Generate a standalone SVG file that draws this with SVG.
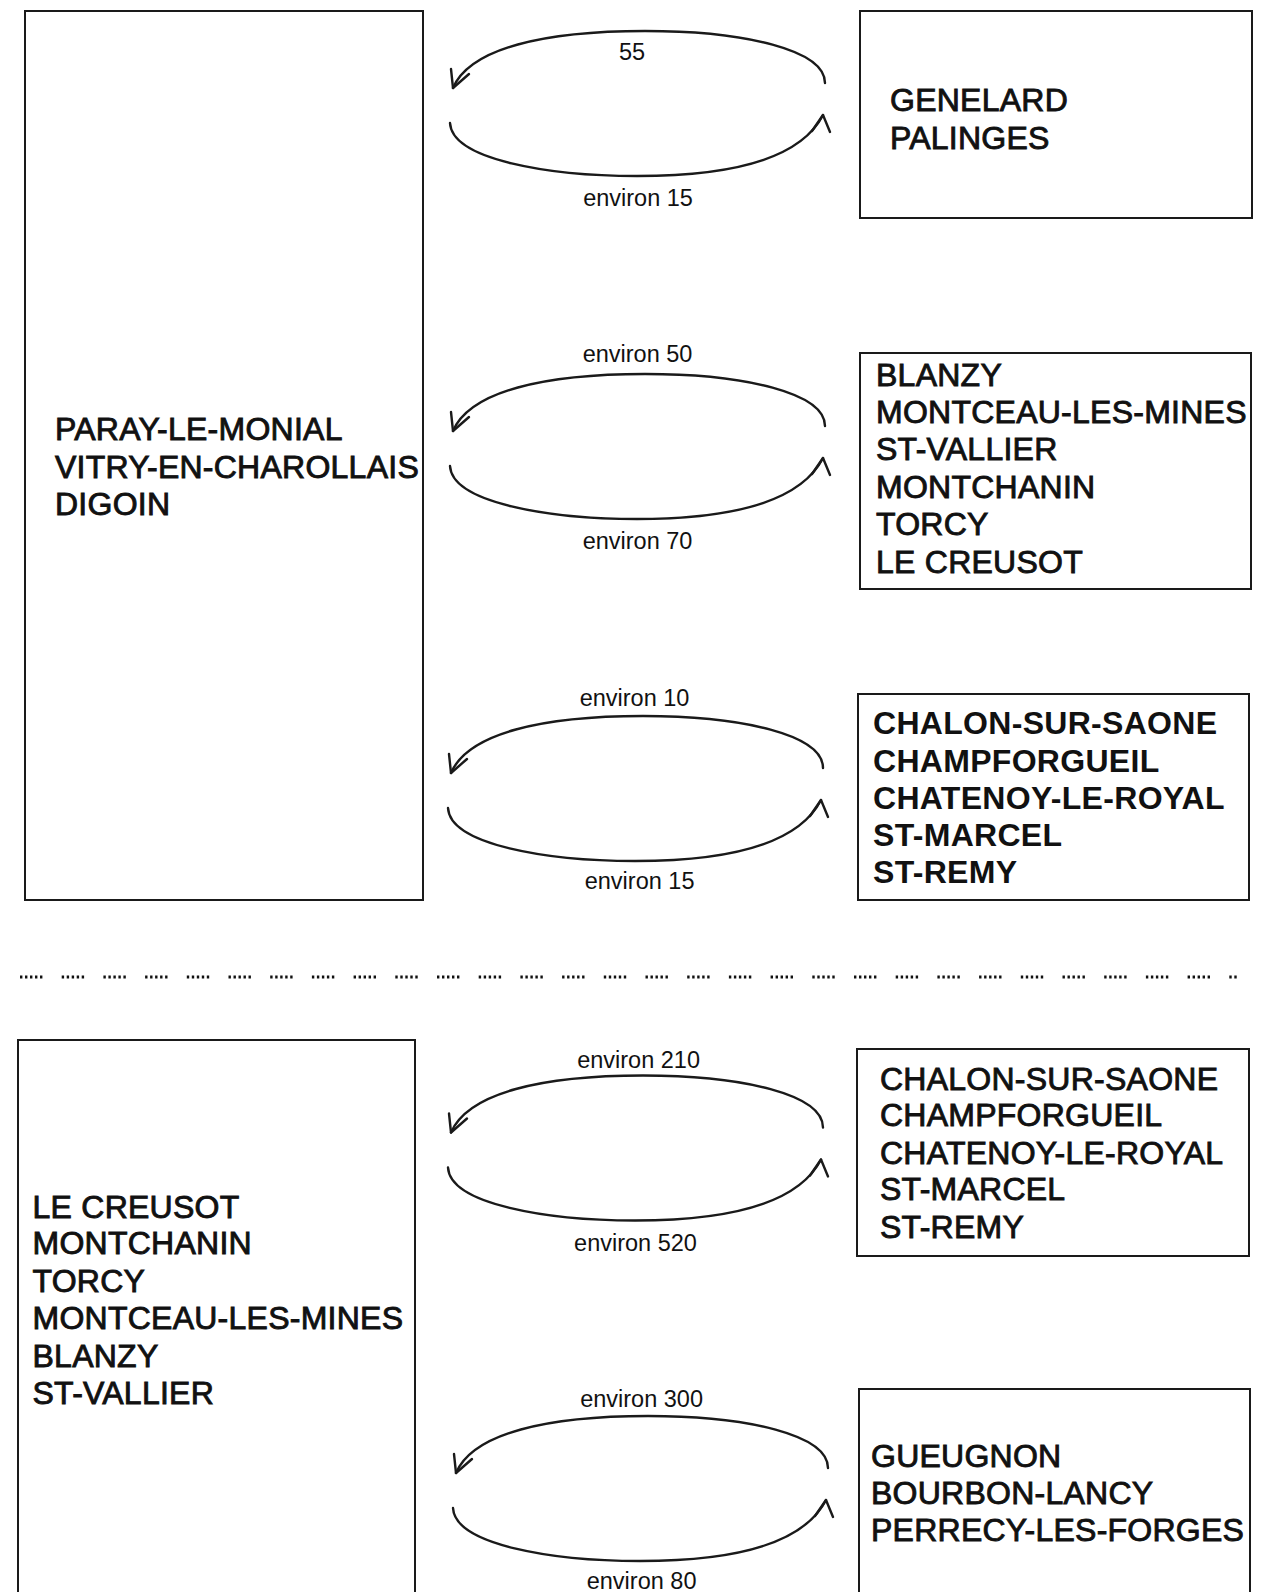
<svg xmlns="http://www.w3.org/2000/svg" xmlns:xlink="http://www.w3.org/1999/xlink" width="1273" height="1592" viewBox="0 0 1273 1592">
<style>
.box{fill:none;stroke:#1a1a1a;stroke-width:2}
.t{font-family:"Liberation Sans",Arial,sans-serif;font-size:32px;letter-spacing:0.25px;fill:#111;stroke:#111;stroke-width:0.9px}
.tb{font-family:"Liberation Sans",Arial,sans-serif;font-size:32px;font-weight:bold;letter-spacing:0.3px;fill:#111}
.lbl{font-family:"Liberation Sans",Arial,sans-serif;font-size:23.5px;fill:#111;text-anchor:middle}
.arc{fill:none;stroke:#1a1a1a;stroke-width:2.4;stroke-linecap:round;stroke-linejoin:round}
.dots{fill:none;stroke:#111;stroke-width:3;stroke-dasharray:2.4 2.6 2.4 2.6 2.4 2.6 2.4 2.6 2.4 19.3}
</style>
<defs>
<g id="loop">
<path class="arc" d="M825,83 C825,50 745,31 645,31 C545,31 470,48 453,88"/>
<path class="arc" d="M451,69 L453,88 L469,74"/>
<path class="arc" d="M450,123 C452,160 550,176 637,176 C730,176 800,160 823,115"/>
<path class="arc" d="M812,131 L823,115 L830,132"/>
</g>
</defs>
<rect width="1273" height="1592" fill="#fff"/>

<g id="n-paray">
<rect class="box" x="25" y="11" width="398" height="889"/>
<text class="t" x="55" y="440">PARAY-LE-MONIAL</text>
<text class="t" x="55" y="477.5">VITRY-EN-CHAROLLAIS</text>
<text class="t" x="55" y="515">DIGOIN</text>
</g>

<g id="n-genelard">
<rect class="box" x="860" y="11" width="392" height="207"/>
<text class="t" x="890" y="111">GENELARD</text>
<text class="t" x="890" y="148.5">PALINGES</text>
</g>

<g id="n-blanzy">
<rect class="box" x="860" y="353" width="391" height="236"/>
<text class="t" x="876" y="386">BLANZY</text>
<text class="t" x="876" y="422.6">MONTCEAU-LES-MINES</text>
<text class="t" x="876" y="460">ST-VALLIER</text>
<text class="t" x="876" y="497.7">MONTCHANIN</text>
<text class="t" x="876" y="535.2">TORCY</text>
<text class="t" x="876" y="572.8">LE CREUSOT</text>
</g>

<g id="n-chalon1">
<rect class="box" x="858" y="694" width="391" height="206"/>
<text class="tb" x="873" y="734">CHALON-SUR-SAONE</text>
<text class="tb" x="873" y="772">CHAMPFORGUEIL</text>
<text class="tb" x="873" y="808.5">CHATENOY-LE-ROYAL</text>
<text class="tb" x="873" y="846">ST-MARCEL</text>
<text class="tb" x="873" y="882.5">ST-REMY</text>
</g>

<g id="n-creusot">
<rect class="box" x="18" y="1040" width="397" height="600"/>
<text class="t" x="32.5" y="1217.6">LE CREUSOT</text>
<text class="t" x="32.5" y="1254">MONTCHANIN</text>
<text class="t" x="32.5" y="1291.6">TORCY</text>
<text class="t" x="32.5" y="1329">MONTCEAU-LES-MINES</text>
<text class="t" x="32.5" y="1366.6">BLANZY</text>
<text class="t" x="32.5" y="1404">ST-VALLIER</text>
</g>

<g id="n-chalon2">
<rect class="box" x="857" y="1049" width="392" height="207"/>
<text class="t" x="880" y="1089.5">CHALON-SUR-SAONE</text>
<text class="t" x="880" y="1126">CHAMPFORGUEIL</text>
<text class="t" x="880" y="1163.6">CHATENOY-LE-ROYAL</text>
<text class="t" x="880" y="1200">ST-MARCEL</text>
<text class="t" x="880" y="1238">ST-REMY</text>
</g>

<g id="n-gueugnon">
<rect class="box" x="859" y="1389" width="391" height="250"/>
<text class="t" x="871" y="1467.4">GUEUGNON</text>
<text class="t" x="871" y="1504">BOURBON-LANCY</text>
<text class="t" x="871" y="1541.4">PERRECY-LES-FORGES</text>
</g>

<g id="connectors">
<use xlink:href="#loop" href="#loop"/>
<use xlink:href="#loop" href="#loop" transform="translate(0,343)"/>
<use xlink:href="#loop" href="#loop" transform="translate(-2,685)"/>
<use xlink:href="#loop" href="#loop" transform="translate(-2,1044.5)"/>
<use xlink:href="#loop" href="#loop" transform="translate(3,1385)"/>
</g>

<g id="labels">
<text class="lbl" x="632" y="60">55</text>
<text class="lbl" x="638" y="206">environ 15</text>
<text class="lbl" x="637.5" y="362">environ 50</text>
<text class="lbl" x="637.5" y="549">environ 70</text>
<text class="lbl" x="634.5" y="705.5">environ 10</text>
<text class="lbl" x="639.6" y="889">environ 15</text>
<text class="lbl" x="638.6" y="1068">environ 210</text>
<text class="lbl" x="635.5" y="1251">environ 520</text>
<text class="lbl" x="641.6" y="1407">environ 300</text>
<text class="lbl" x="641.6" y="1589">environ 80</text>
</g>

<line class="dots" x1="20" y1="977" x2="1237" y2="977"/>
</svg>
